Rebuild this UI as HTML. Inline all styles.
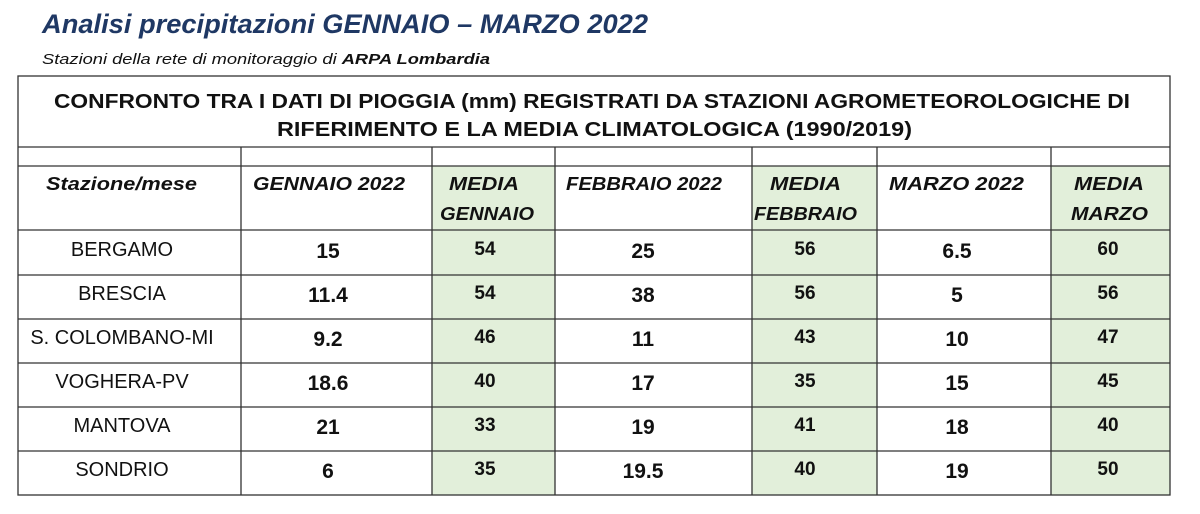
<!DOCTYPE html>
<html><head><meta charset="utf-8"><style>
html,body{margin:0;padding:0;background:#fff;}
svg{display:block;}
text{font-family:"Liberation Sans",sans-serif;fill:#111;}
</style></head><body>
<svg width="1200" height="514" viewBox="0 0 1200 514" xmlns="http://www.w3.org/2000/svg">
<text x="42" y="33" font-size="27" font-weight="bold" font-style="italic" style="fill:#1f3864" textLength="606" lengthAdjust="spacingAndGlyphs">Analisi precipitazioni GENNAIO – MARZO 2022</text>
<text x="42" y="64" font-size="15" font-style="italic" textLength="448" lengthAdjust="spacingAndGlyphs">Stazioni della rete di monitoraggio di <tspan font-weight="bold">ARPA Lombardia</tspan></text>
<g fill="#e2efda">
<rect x="432" y="166" width="123" height="329"/>
<rect x="752" y="166" width="125" height="329"/>
<rect x="1051" y="166" width="119" height="329"/>
</g>
<g stroke="#333" stroke-width="1.3" fill="none">
<rect x="18" y="76" width="1152" height="419"/>
<line x1="18" y1="147" x2="1170" y2="147"/>
<line x1="18" y1="166" x2="1170" y2="166"/>
<line x1="18" y1="230" x2="1170" y2="230"/>
<line x1="18" y1="275" x2="1170" y2="275"/>
<line x1="18" y1="319" x2="1170" y2="319"/>
<line x1="18" y1="363" x2="1170" y2="363"/>
<line x1="18" y1="407" x2="1170" y2="407"/>
<line x1="18" y1="451" x2="1170" y2="451"/>
<line x1="241" y1="147" x2="241" y2="495"/>
<line x1="432" y1="147" x2="432" y2="495"/>
<line x1="555" y1="147" x2="555" y2="495"/>
<line x1="752" y1="147" x2="752" y2="495"/>
<line x1="877" y1="147" x2="877" y2="495"/>
<line x1="1051" y1="147" x2="1051" y2="495"/>
</g>
<g font-weight="bold" font-size="20">
<text x="54" y="108" textLength="1076" lengthAdjust="spacingAndGlyphs">CONFRONTO TRA I DATI DI PIOGGIA (mm) REGISTRATI DA STAZIONI AGROMETEOROLOGICHE DI</text>
<text x="277" y="136" textLength="635" lengthAdjust="spacingAndGlyphs">RIFERIMENTO E LA MEDIA CLIMATOLOGICA (1990/2019)</text>
</g>
<g font-weight="bold" font-style="italic" font-size="18">
<text x="46" y="190" textLength="151" lengthAdjust="spacingAndGlyphs">Stazione/mese</text>
<text x="253" y="190" textLength="152" lengthAdjust="spacingAndGlyphs">GENNAIO 2022</text>
<text x="449" y="190" textLength="70" lengthAdjust="spacingAndGlyphs">MEDIA</text>
<text x="440" y="220" textLength="94" lengthAdjust="spacingAndGlyphs">GENNAIO</text>
<text x="566" y="190" textLength="156" lengthAdjust="spacingAndGlyphs">FEBBRAIO 2022</text>
<text x="770" y="190" textLength="71" lengthAdjust="spacingAndGlyphs">MEDIA</text>
<text x="754" y="220" textLength="103" lengthAdjust="spacingAndGlyphs">FEBBRAIO</text>
<text x="889" y="190" textLength="135" lengthAdjust="spacingAndGlyphs">MARZO 2022</text>
<text x="1074" y="190" textLength="70" lengthAdjust="spacingAndGlyphs">MEDIA</text>
<text x="1071" y="220" textLength="77" lengthAdjust="spacingAndGlyphs">MARZO</text>
</g>
<g font-size="20" text-anchor="middle">
<text x="122" y="256">BERGAMO</text>
<text x="122" y="300">BRESCIA</text>
<text x="122" y="344">S. COLOMBANO-MI</text>
<text x="122" y="388">VOGHERA-PV</text>
<text x="122" y="432">MANTOVA</text>
<text x="122" y="476">SONDRIO</text>
</g>
<g font-size="21" font-weight="bold" text-anchor="middle">
<text x="328" y="258">15</text><text x="643" y="258">25</text><text x="957" y="258">6.5</text>
<text x="328" y="302">11.4</text><text x="643" y="302">38</text><text x="957" y="302">5</text>
<text x="328" y="346">9.2</text><text x="643" y="346">11</text><text x="957" y="346">10</text>
<text x="328" y="390">18.6</text><text x="643" y="390">17</text><text x="957" y="390">15</text>
<text x="328" y="434">21</text><text x="643" y="434">19</text><text x="957" y="434">18</text>
<text x="328" y="478">6</text><text x="643" y="478">19.5</text><text x="957" y="478">19</text>
</g>
<g font-size="19" font-weight="bold" text-anchor="middle">
<text x="485" y="255">54</text><text x="805" y="255">56</text><text x="1108" y="255">60</text>
<text x="485" y="299">54</text><text x="805" y="299">56</text><text x="1108" y="299">56</text>
<text x="485" y="343">46</text><text x="805" y="343">43</text><text x="1108" y="343">47</text>
<text x="485" y="387">40</text><text x="805" y="387">35</text><text x="1108" y="387">45</text>
<text x="485" y="431">33</text><text x="805" y="431">41</text><text x="1108" y="431">40</text>
<text x="485" y="475">35</text><text x="805" y="475">40</text><text x="1108" y="475">50</text>
</g>
</svg>
</body></html>
